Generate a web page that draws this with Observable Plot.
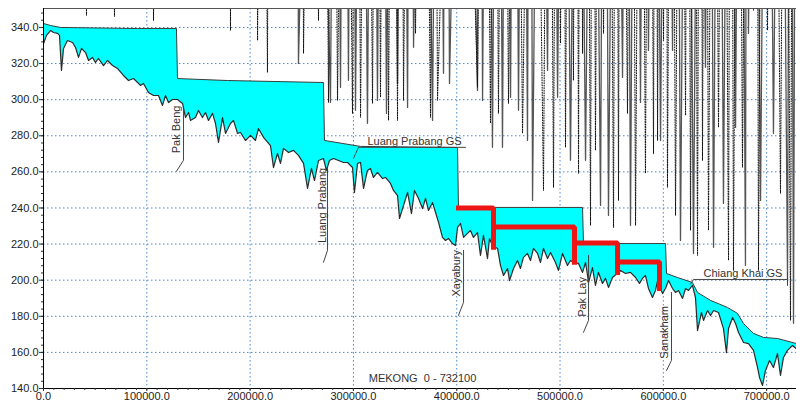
<!DOCTYPE html>
<html><head><meta charset="utf-8">
<script src="https://cdn.jsdelivr.net/npm/d3@7"></script>
<script src="https://cdn.jsdelivr.net/npm/@observablehq/plot@0.6"></script>
<style>html,body{margin:0;padding:0;background:#fff}#chart svg{display:block}</style>
</head><body><div id="chart"></div>
<script>
// Bed (thalweg) profile: [station m, elevation m]
const bedProfile = [[0,331.0],[2900,335.6],[6800,338.3],[9700,337.2],[13600,336.7],[15500,335.6],[17400,316.2],[19400,328.4],[23200,332.8],[28100,331.7],[31000,328.9],[33900,323.4],[36800,328.4],[40700,326.1],[43600,321.7],[47400,323.4],[50300,320.6],[53200,322.8],[58100,318.9],[62000,321.7],[66800,318.9],[71600,317.3],[77400,313.4],[82300,310.6],[87100,311.7],[93900,307.9],[96800,309.0],[101600,304.0],[106500,302.3],[111300,302.3],[115200,296.8],[118100,302.3],[121000,298.4],[124900,300.1],[129700,300.1],[134600,297.9],[137500,290.1],[140400,292.9],
[142300,288.5],[147100,290.1],[150000,294.0],[153900,290.1],[156800,292.9],[159700,288.5],[163600,292.4],[166500,286.8],[169400,276.3],[173300,290.1],[176200,281.3],[181000,286.8],[183900,288.5],[187800,281.3],[190700,281.8],[195500,277.4],[200400,280.2],[205200,277.4],[208100,284.0],[213000,279.1],[219700,274.6],[222600,262.4],[226500,270.2],[229400,264.7],[232300,273.0],[237200,270.7],[242000,271.9],[246800,269.1],[251700,264.7],[255600,250.8],[259400,261.9],[262300,255.2],[266200,266.3],[271000,267.4],[273900,260.8],[276800,266.3],[280700,267.4],[285600,266.3],[290400,265.2],
[294300,265.2],[299100,262.4],[301000,248.6],[304000,264.7],[306900,265.2],[309800,250.8],[313600,260.8],[316500,261.9],[319400,256.9],[323300,259.7],[328200,256.3],[331100,256.9],[335900,253.6],[338800,249.7],[342700,246.9],[344600,234.2],[348500,241.4],[352400,248.6],[356200,236.9],[359100,249.7],[363000,245.3],[366900,239.7],[369800,245.3],[372700,238.6],[376600,243.0],[379500,237.5],[382400,232.0],[386200,223.7],[389100,222.0],[392000,223.1],[395900,220.3],[398800,219.2],[400800,229.2],[403700,231.4],[406600,223.7],[410400,225.9],
[413300,227.5],[416200,223.7],[420100,226.4],[423000,213.7],[425900,224.8],[429800,212.0],[431700,223.1],[434600,219.2],[439500,217.6],[442400,208.1],[445300,202.6],[449200,206.5],[451100,199.8],[455000,206.5],[458800,210.9],[461700,206.5],[464600,212.6],[468500,214.8],[471400,210.9],[474300,217.6],[478200,214.8],[481100,209.8],[484000,217.6],[487900,212.0],[490800,215.3],[495600,209.8],[498500,205.4],[502400,214.8],[507200,208.1],[510100,210.9],[513000,209.8],[517900,209.3],[521800,204.3],[524700,209.8],[527600,198.7],[531400,207.0],[534300,197.1],[537200,204.3],[541100,198.2],[544000,201.0],[546900,196.0],[550800,201.5],
[558500,205.4],[563400,203.7],[568200,204.3],[573100,201.5],[576900,198.2],[579800,201.0],[582700,202.6],[585600,195.4],[589500,190.4],[592400,194.3],[594400,199.8],[599200,192.6],[602100,195.4],[605000,199.8],[608900,195.4],[611800,193.2],[614700,194.3],[618600,189.9],[621500,195.4],[624400,194.3],[628200,197.1],[631100,190.4],[633100,172.1],[636900,182.1],[638900,177.7],[642800,183.2],[645700,180.4],[648600,183.2],[653400,182.1],[658200,173.2],[661100,159.9],[663100,173.2],[667000,179.3],[669900,176.0],[672800,171.0],[677600,165.5],[682400,164.9],[687300,161.1],[691200,151.6],[693100,146.1],[696000,141.7],[698900,150.0],[702800,155.5],[706600,151.6],[710500,159.4],[713400,147.2],[716300,157.2],[720200,161.1],[725000,163.8],[728900,162.0]];

// Water surface profile (reservoir cascade)
const waterSurface = [[0,342.2],[6800,341.1],[16500,340.0],[91000,339.4],[128700,339.4],[129700,311.7],[178100,310.6],[271000,309.5],[272000,277.4],[306900,274.1],[400800,273.5],[401700,240.3],[521800,240.3],[522700,220.3],[602100,220.3],[603100,203.7],[613700,201.5],[628200,198.7],[633100,193.2],[645700,188.8],[662100,184.9],[671800,181.6],[677600,176.0],[687300,170.5],[697000,168.3],[710500,167.7],[728900,164.9]];

// Alternative (red) pool levels
const redStart = [401700, 435600, 514000, 555700];
const redEnd   = [435600, 514000, 555700, 596300];
const redLevel = [240.0, 229.5, 220.6, 210.1];
const redFoot  = [218.2, 209.9, 204.3, 195.4];

// Bank elevations (crests lie far above the plotted range)
const bankDotted = [[39600,700],[41600,346.7],[43600,700],[66700,700],[68700,346.1],[70700,700],[104500,700],[106500,343.9],[108500,700],[179000,700],[181000,338.4],[183000,700],[205200,700],[207200,332.8],[212000,700],[216800,315.1],[219000,700],
[249700,700],[251700,325.6],[259000,700],[266200,343.9],[271000,700],[275900,298.5],[280200,700],[284600,299.6],[292000,700],[299100,292.4],[303000,700],[306900,290.2],[312700,700],[318500,297.9],[322400,700],[326200,301.3],[330100,700],[334000,288.5],[338300,700],[342700,288.5],[345600,700],[348500,299.6],[354300,700],[360100,336.7],[367400,700],[374600,290.2],[378000,700],[381400,299.6],[400800,700],[420100,306.8],[426400,700],[432700,286.9],[436600,700],[440400,292.4],[445300,700],[450100,297.9],[456900,700],[463700,281.3],[473800,700],[484000,249.7],[488900,700],[493700,251.4],[497100,700],[500500,331.2],[502900,700],[505300,273.6],[509200,700],[513000,310.7],[515500,700],[517900,259.2],[519800,700],[521800,325.6],[525600,700],[529500,230.4],[531900,700],[534300,271.9],[538200,700],[542100,336.7],[546900,700],[551800,229.2],[554200,700],[556600,244.2],[558500,700],[565300,292.4],[569200,700],[573100,230.4],[578000,700],[582700,259.2],[586600,700],[590500,270.2],[592400,700],[594400,277.4],[597300,700],[600200,332.8],[602100,700],[604000,251.4],[607900,700],[611800,235.9],[616600,700],[621500,291.3],[623900,700],[626300,227.6],[629700,700],[633100,213.7],[635500,700],[637900,266.4],[640800,700],[643700,227.6],[648600,700],[653400,284.6],[658200,700],[663100,211.0],[665500,700],[667900,205.4],[672300,700],[676600,262.5],[682000,700],[687300,349.5],[690000,700],[692100,205.4],[696500,700],[700800,338.4],[707100,700],[713400,248.1],[718300,700],[723100,177.7],[726000,700]];
const bankSolid = [[244800,700],[246800,320.1],[262000,700],[277800,298.5],[282700,700],[287500,306.8],[291400,700],[295200,310.7],[298600,700],[302000,294.1],[307900,700],[313600,286.9],[318500,700],[323300,299.6],[327700,700],[332000,292.4],[337300,700],[342700,309.0],[347500,700],[352400,295.7],[355200,700],[358200,329.0],[367400,700],[376600,288.5],[382000,700],[387200,314.6],[390100,700],[393000,309.0],[406600,700],[420100,305.1],[422500,700],[425000,299.6],[429800,700],[434600,273.6],[439500,700],[444300,273.6],[448200,700],[452100,301.3],[456000,700],[459800,294.1],[464200,700],[468500,277.4],[470900,700],[473400,244.2],[480600,700],[487900,316.2],[492700,700],[497600,301.3],[503900,700],[510100,266.4],[517400,700],[524700,266.4],[531900,700],[539200,241.4],[543000,700],[546900,235.9],[553700,700],[560500,312.3],[564400,700],[568200,230.4],[573100,700],[577900,298.5],[581800,700],[585600,327.3],[591400,700],[597300,277.4],[603100,700],[608900,327.3],[612700,700],[616600,222.0],[623000,700],[629200,214.8],[635000,700],[640800,317.9],[644700,700],[648600,218.2],[653400,700],[658200,242.5],[664000,700],[669900,284.6],[674700,700],[679500,208.2],[681000,700],[682400,336.7],[688300,700],[694100,244.2],[700400,700],[706600,281.3],[713400,700],[720200,199.9],[723100,700],[726000,176.1],[728900,700]];

// Dam labels
const damNames  = ["Pak Beng", "Luang Prabang", "Xayabury", "Pak Lay", "Sanakham"];
const damLabelX = [128700, 270100, 399800, 521800, 601100];
const damLabelY = [283.5, 241.4, 203.8, 190.7, 171.1];
const damLeaders = [
  [[135500,295.7],[135500,266.4],[128700,260.3]],
  [[274900,261.9],[274900,216.5],[271000,209.9]],
  [[406600,216.5],[406600,187.7],[401700,180.5]],
  [[527600,213.7],[527600,177.7],[522700,171.1]],
  [[607900,193.2],[607900,155.6],[603100,150.0]]
];
// Gauging station labels
const gsNames = ["Luang Prabang GS", "Chiang Khai GS"];
const gsX = [313600, 638900];
const gsY = [276.9, 203.9];
const gsLeaders = [
  [[300100,267.5],[304900,273.6],[408500,273.6]],
  [[626300,197.8],[629200,200.4],[720200,200.4],[720200,204.3],[720200,197.1]]
];
const reachTitle = "MEKONG  0 - 732100";

// Ticks
const xTicks = [0, 100000, 200000, 300000, 400000, 500000, 600000, 700000];
const yTicks = [140, 160, 180, 200, 220, 240, 260, 280, 300, 320, 340];
const xMinor = d3.range(0, 728901, 10000);
const yMinor = d3.range(140, 350, 4);

const pts = a => a.map(([x, y]) => ({x, y}));
const cyanPoly = pts(waterSurface.concat(bedProfile.slice().reverse()));
const redRows = redStart.flatMap((s, i) => [
  {x: s, y: redLevel[i], k: i}, {x: redEnd[i], y: redLevel[i], k: i}, {x: redEnd[i], y: redFoot[i], k: i}
]);
const leaderRows = damLeaders.concat(gsLeaders).flatMap((l, k) => l.map(([x, y]) => ({x, y, k})));
const damRows = damNames.map((t, i) => ({t, x: damLabelX[i], y: damLabelY[i]}));
const gsRows = gsNames.map((t, i) => ({t, x: gsX[i], y: gsY[i]}));

const gridC = "#4a86d4";
const chart = Plot.plot({
  width: 796, height: 407,
  marginLeft: 43, marginRight: 0, marginTop: 8, marginBottom: 19,
  style: {fontFamily: "'Liberation Sans', Arial, sans-serif", fontSize: "11px", color: "#222", background: "#fff", overflow: "visible"},
  x: {domain: [0, 728900], axis: null},
  y: {domain: [140, 350.5], axis: null},
  marks: [
    Plot.ruleX(xTicks.slice(1), {stroke: gridC, strokeDasharray: "1.5,2.5", strokeWidth: 1}),
    Plot.ruleY(yTicks.slice(1), {stroke: gridC, strokeDasharray: "1.5,2.5", strokeWidth: 1}),
    Plot.line(cyanPoly, {x: "x", y: "y", fill: "#00ffff", stroke: "none"}),
    Plot.line(pts(bankSolid), {x: "x", y: "y", stroke: "#555", strokeWidth: 1.3, clip: true}),
    Plot.line(pts(bankDotted), {x: "x", y: "y", stroke: "#111", strokeWidth: 1, strokeDasharray: "1,1.5", clip: true}),
    Plot.line(pts(waterSurface), {x: "x", y: "y", stroke: "#3c3c3c", strokeWidth: 1}),
    Plot.line(pts(bedProfile), {x: "x", y: "y", stroke: "#2b2b2b", strokeWidth: 1.2}),
    Plot.line(redRows, {x: "x", y: "y", z: "k", stroke: "#ee1515", strokeWidth: 5, strokeLinejoin: "miter", strokeLinecap: "square"}),
    Plot.line(leaderRows, {x: "x", y: "y", z: "k", stroke: "#444", strokeWidth: 1}),
    Plot.text(damRows, {x: "x", y: "y", text: "t", rotate: -90, fontSize: 11, fill: "#333"}),
    Plot.text(gsRows, {x: "x", y: "y", text: "t", textAnchor: "start", fontSize: 11, fill: "#333"}),
    Plot.text([reachTitle], {x: 366900, y: 145.6, text: d => d, fontSize: 11, fill: "#333"}),
    Plot.ruleY([350.5], {stroke: "#555", strokeWidth: 1}),
    Plot.ruleY([140], {stroke: "#000", strokeWidth: 1}),
    Plot.ruleX([0], {stroke: "#000", strokeWidth: 1}),
    Plot.axisY({ticks: yMinor, tickSize: 2, tickFormat: () => "", label: null, stroke: "#333"}),
    Plot.axisY({ticks: yTicks, tickSize: 4, tickPadding: 1, tickFormat: d => d.toFixed(1), label: null, fontSize: 11, stroke: "#333"}),
    Plot.axisX({ticks: xMinor, tickSize: 2, tickFormat: () => "", label: null, stroke: "#333"}),
    Plot.axisX({ticks: xTicks, tickSize: 3, tickPadding: 1, tickFormat: d => d.toFixed(1), label: null, fontSize: 11, stroke: "#333"})
  ]
});
document.getElementById("chart").appendChild(chart);
</script>
</body></html>
